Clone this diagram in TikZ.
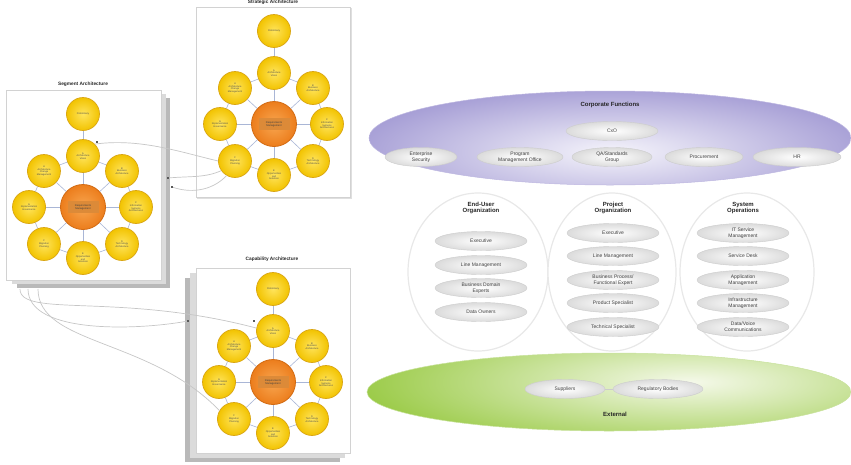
\documentclass[tikz,border=0pt]{standalone}
\usepackage{fontspec}
\setmainfont{Liberation Sans}
\usetikzlibrary{shapes.geometric}
\definecolor{yin}{HTML}{FFE45C}
\definecolor{yout}{HTML}{F2C300}
\definecolor{ydraw}{HTML}{D9A514}
\definecolor{oin}{HTML}{F8A650}
\definecolor{oout}{HTML}{EC7D1C}
\definecolor{odraw}{HTML}{D26A12}
\definecolor{obox}{HTML}{DC8A38}
\definecolor{spokec}{HTML}{A9B6D6}
\definecolor{purpout}{HTML}{A59DD5}
\definecolor{purpin}{HTML}{F5F4FB}
\definecolor{purpline}{HTML}{BDB7E0}
\definecolor{grout}{HTML}{9BCB48}
\definecolor{grin}{HTML}{F5F9EA}
\definecolor{grline}{HTML}{C9E29E}
\newcommand{\admcycle}[3]{%
\begin{scope}[shift={(#2,#3)}]
\node[oc] (#1-c) at (0,0) {};
\node[obx] (#1-cl) at (0,0) {Requirements\\Management};
\node[yc] (#1-p) at (0,-93) {Preliminary};
\node[yc] (#1-a) at (0,-51) {A\\Architecture\\Vision};
\node[yc] (#1-b) at (39,-36) {B\\Business\\Architecture};
\node[yc] (#1-cc) at (53,0) {C\\Information\\Systems\\Architectures};
\node[yc] (#1-d) at (39,37) {D\\Technology\\Architecture};
\node[yc] (#1-e) at (0,51) {E\\Opportunities\\and\\Solutions};
\node[yc] (#1-f) at (-39,37) {F\\Migration\\Planning};
\node[yc] (#1-g) at (-54,0) {G\\Implementation\\Governance};
\node[yc] (#1-h) at (-39,-36) {H\\Architecture\\Change\\Management};
\draw[spoke] (#1-p) -- (#1-a);
\foreach \n in {a,b,cc,d,e,f,g,h} {\draw[spoke] (#1-c) -- (#1-\n);}
\draw[spoke] (#1-a) -- (#1-b) -- (#1-cc) -- (#1-d) -- (#1-e) -- (#1-f) -- (#1-g) -- (#1-h) -- (#1-a);
\end{scope}}
\tikzset{
 page/.style={fill=white, draw=gray!35, line width=0.5pt},
 ptitle/.style={font=\fontsize{4.8}{5}\selectfont\bfseries, text=black!85},
 yc/.style={circle, minimum size=33pt, inner sep=0pt, draw=ydraw, line width=0.7pt, inner color=yin, outer color=yout, align=center, font=\fontsize{2.4}{2.7}\selectfont, text=black!70},
 oc/.style={circle, minimum size=45pt, inner sep=0pt, draw=odraw, line width=0.8pt, inner color=oin, outer color=oout},
 obx/.style={rectangle, fill=obox, minimum width=31pt, minimum height=12pt, inner sep=0.5pt, align=center, font=\fontsize{2.6}{2.9}\selectfont, text=black!75},
 spoke/.style={draw=spokec, line width=0.6pt},
 conn/.style={draw=gray!45, line width=0.7pt},
 mk/.style={fill=black!65, minimum size=2.5pt, inner sep=0pt},
 item/.style={ellipse, minimum width=#1, minimum height=19pt, inner sep=0pt, draw=gray!40, line width=0.4pt, inner color=white, outer color=gray!28, align=center, font=\fontsize{5}{5.6}\selectfont, text=black!75},
 ctitle/.style={align=center, font=\fontsize{6}{6.6}\selectfont\bfseries, text=black!85},
 colc/.style={draw=gray!18, line width=1.2pt, fill=white},
}
\begin{document}
\begin{tikzpicture}[x=1pt,y=-1pt]
\useasboundingbox (0,0) rectangle (851,464);
% ---------- pages ----------
\fill[gray!25] (197,8) rectangle (352,199);
\draw[page] (196,7) rectangle (350,197);
\node[ptitle] (strt) at (273,2) {Strategic Architecture};
\fill[gray!55] (17,98) rectangle (170,288);
\fill[gray!28] (12,94) rectangle (166,284);
\draw[page] (6,90) rectangle (161,280);
\node[ptitle] (segt) at (83,84) {Segment Architecture};
\fill[gray!55] (185,278) rectangle (340,462);
\fill[gray!28] (190,273) rectangle (345,458);
\draw[page] (196,268) rectangle (350,453);
\node[ptitle] (capt) at (272,259) {Capability Architecture};
% ---------- cycles ----------
\admcycle{str}{274}{124}
\admcycle{seg}{83}{207}
\admcycle{cap}{273}{382}
% ---------- connectors ----------
\coordinate (m1) at (168,178);
\coordinate (m2) at (172,187);
\coordinate (m3) at (188,321);
\coordinate (s1) at (20,289);
\coordinate (s2) at (28,289);
\coordinate (s3) at (38,289);
\draw[conn] (seg-a.45) .. controls (140,138) and (180,152) .. (str-f.west);
\draw[conn] (m1) .. controls (190,176) and (205,178) .. (str-f.215);
\draw[conn] (m2) .. controls (195,195) and (215,188) .. (str-f.240);
\draw[conn] (s1) .. controls (20,318) and (120,292) .. (cap-a.170);
\draw[conn] (s2) .. controls (28,335) and (140,330) .. (m3);
\draw[conn] (s3) .. controls (38,345) and (150,338) .. (cap-f.150);
\node[mk] (mk1) at (m1) {};
\node[mk] (mk2) at (m2) {};
\node[mk] (mk3) at (m3) {};
\node[mk] (mk4) at (254,321) {};
\node[mk] (mk5) at (97,142) {};
% ---------- column circles ----------
\draw[colc] (478,272) ellipse [x radius=70, y radius=79];
\draw[colc] (612,272) ellipse [x radius=64, y radius=79];
\draw[colc] (747,272) ellipse [x radius=67, y radius=79];
% ---------- corporate ellipse ----------
\begin{scope}
\clip (610,138) ellipse [x radius=241, y radius=47];
\shade[inner color=purpin, outer color=purpout] (612,152) ellipse [x radius=265, y radius=66];
\end{scope}
\draw[purpline, line width=0.5pt] (610,138) ellipse [x radius=241, y radius=47];
\node[ctitle] (corpt) at (610,105) {Corporate Functions};
\node[item=92pt] (cxo) at (612,131) {CxO};
\node[item=72pt] (ensec) at (421,157) {Enterprise\\Security};
\node[item=86pt] (pmo) at (520,157) {Program\\Management Office};
\node[item=80pt] (qa) at (612,157) {QA/Standards\\Group};
\node[item=78pt] (proc) at (704,157) {Procurement};
\node[item=88pt] (hr) at (797,157) {HR};
% ---------- columns ----------
\node[ctitle] (eut) at (481,208) {End-User\\Organization};
\node[item=92pt] (eu1) at (481,241) {Executive};
\node[item=92pt] (eu2) at (481,265) {Line Management};
\node[item=92pt] (eu3) at (481,288) {Business Domain\\Experts};
\node[item=92pt] (eu4) at (481,312) {Data Owners};
\node[ctitle] (prt) at (613,208) {Project\\Organization};
\node[item=92pt] (pr1) at (613,233) {Executive};
\node[item=92pt] (pr2) at (613,256) {Line Management};
\node[item=92pt] (pr3) at (613,280) {Business Process/\\Functional Expert};
\node[item=92pt] (pr4) at (613,303) {Product Specialist};
\node[item=92pt] (pr5) at (613,327) {Technical Specialist};
\node[ctitle] (sot) at (743,208) {System\\Operations};
\node[item=92pt] (so1) at (743,233) {IT Service\\Management};
\node[item=92pt] (so2) at (743,256) {Service Desk};
\node[item=92pt] (so3) at (743,280) {Application\\Management};
\node[item=92pt] (so4) at (743,303) {Infrastructure\\Management};
\node[item=92pt] (so5) at (743,327) {Data/Voice\\Communications};
% ---------- external ellipse ----------
\begin{scope}
\clip (609,392) ellipse [x radius=242, y radius=39];
\shade[inner color=grin, outer color=grout] (690,382) ellipse [x radius=330, y radius=72];
\end{scope}
\draw[grline, line width=0.5pt] (609,392) ellipse [x radius=242, y radius=39];
\node[item=80pt] (sup) at (565,389) {Suppliers};
\node[item=90pt] (reg) at (658,389) {Regulatory Bodies};
\draw[gray!40, line width=0.5pt] (sup) -- (reg);
\node[ctitle] (extt) at (615,414) {External};
\end{tikzpicture}
\end{document}
